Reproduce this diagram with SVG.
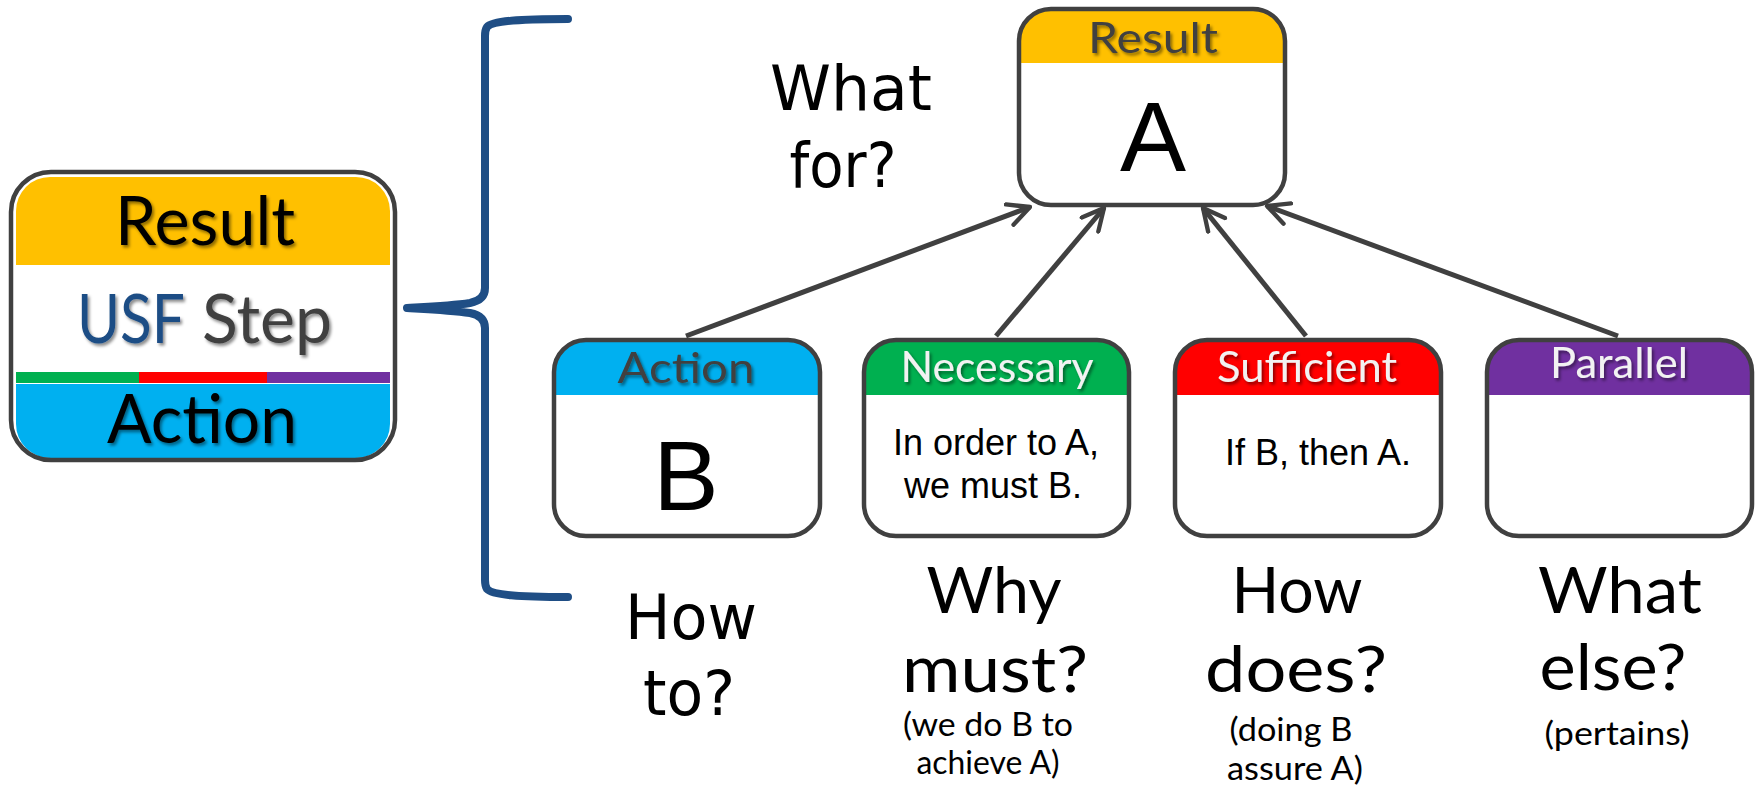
<svg xmlns="http://www.w3.org/2000/svg" width="1758" height="786" viewBox="0 0 1758 786">
<style>
.border{fill:none;stroke:#404040;stroke-width:4.5}
.cal{font-family:Lato,"Open Sans",sans-serif;text-anchor:middle}
.dv{font-family:"DejaVu Sans",sans-serif;text-anchor:middle;font-size:62px;fill:#000}
.ar{font-family:"Liberation Sans",Arial,sans-serif;text-anchor:middle;fill:#000}
.hdrd{font-size:43px;fill:#404040}
.hdrw{font-size:43px;fill:#F2F2F2}
.big{font-size:67px;fill:#000}
.lbl{font-size:64px;fill:#000}
.small{font-size:32px;fill:#000}
.conn{fill:none;stroke:#404040;stroke-width:5}
</style>
<defs>
<filter id="sh" x="-10%" y="-20%" width="130%" height="150%">
<feDropShadow dx="2" dy="2.5" stdDeviation="1.5" flood-color="#000" flood-opacity="0.45"/>
</filter>
<marker id="ah" viewBox="0 0 12 12" refX="11" refY="6" markerWidth="26" markerHeight="26" markerUnits="userSpaceOnUse" orient="auto">
<path d="M1,1 L11,6 L1,11" fill="none" stroke="#404040" stroke-width="2" stroke-linecap="round" stroke-linejoin="round"/>
</marker>
<clipPath id="cL"><rect x="16" y="177" width="374" height="281" rx="34"/></clipPath>
<clipPath id="cR"><rect x="1019" y="9" width="266" height="196" rx="32"/></clipPath>
<clipPath id="cA"><rect x="554" y="340" width="266" height="196" rx="32"/></clipPath>
<clipPath id="cN"><rect x="864" y="340" width="265" height="196" rx="32"/></clipPath>
<clipPath id="cS"><rect x="1175" y="340" width="266" height="196" rx="32"/></clipPath>
<clipPath id="cP"><rect x="1487" y="340" width="265" height="196" rx="32"/></clipPath>
</defs>
<rect width="1758" height="786" fill="#fff"/>

<g id="usf-step">
<rect x="11" y="172" width="384" height="288" rx="40" fill="#fff"/>
<g clip-path="url(#cL)">
<rect x="16" y="177" width="374" height="88" fill="#FFC000"/>
<rect x="16" y="372" width="123" height="11" fill="#00B050"/>
<rect x="139" y="372" width="128" height="11" fill="#FF0000"/>
<rect x="267" y="372" width="123" height="11" fill="#7030A0"/>
<rect x="16" y="384" width="374" height="74" fill="#00B0F0"/>
</g>
<rect x="11" y="172" width="384" height="288" rx="40" class="border"/>
<g filter="url(#sh)">
<text class="cal big" x="205" y="245" textLength="180" lengthAdjust="spacingAndGlyphs">Result</text>
<text class="cal" style="font-size:67px;text-anchor:start" x="77" y="343"><tspan fill="#1F4E85" textLength="108" lengthAdjust="spacingAndGlyphs">USF</tspan></text>
<text class="cal" style="font-size:67px;text-anchor:start" x="202" y="343"><tspan fill="#404040" textLength="130" lengthAdjust="spacingAndGlyphs">Step</tspan></text>
<text class="cal big" x="202" y="443" textLength="190" lengthAdjust="spacingAndGlyphs">Action</text>
</g>
</g>

<g id="brace">
<path d="M568,19 C520,19 492,21 487,27 Q485,30 485,36 L485,288 Q485,300 470,303 C450,306 425,307 407,308 C425,309 450,310 470,313 Q485,316 485,328 L485,580 Q485,586 487,589 C492,595 520,597 568,597" fill="none" stroke="#1F4E85" stroke-width="8" stroke-linecap="round" stroke-linejoin="round"/>
</g>

<g id="connectors">
<line class="conn" x1="686" y1="336" x2="1030" y2="207" marker-end="url(#ah)"/>
<line class="conn" x1="996" y1="336" x2="1104" y2="208" marker-end="url(#ah)"/>
<line class="conn" x1="1306" y1="336" x2="1203" y2="208" marker-end="url(#ah)"/>
<line class="conn" x1="1618" y1="336" x2="1267" y2="206" marker-end="url(#ah)"/>
</g>

<g id="result">
<rect x="1019" y="9" width="266" height="196" rx="32" fill="#fff"/>
<rect x="1019" y="9" width="266" height="54" fill="#FFC000" clip-path="url(#cR)"/>
<rect x="1019" y="9" width="266" height="196" rx="32" class="border"/>
<text class="cal hdrd" x="1153" y="53" textLength="130" lengthAdjust="spacingAndGlyphs" filter="url(#sh)">Result</text>
<text class="ar" style="font-size:99px" x="1153" y="171">A</text>
</g>

<g id="action">
<rect x="554" y="340" width="266" height="196" rx="32" fill="#fff"/>
<rect x="554" y="340" width="266" height="55" fill="#00B0F0" clip-path="url(#cA)"/>
<rect x="554" y="340" width="266" height="196" rx="32" class="border"/>
<text class="cal hdrd" x="686" y="383" textLength="137" lengthAdjust="spacingAndGlyphs" filter="url(#sh)">Action</text>
<text class="ar" style="font-size:98px" x="686" y="510">B</text>
</g>

<g id="necessary">
<rect x="864" y="340" width="265" height="196" rx="32" fill="#fff"/>
<rect x="864" y="340" width="265" height="55" fill="#00B050" clip-path="url(#cN)"/>
<rect x="864" y="340" width="265" height="196" rx="32" class="border"/>
<text class="cal hdrw" x="997" y="382" textLength="193" lengthAdjust="spacingAndGlyphs" filter="url(#sh)">Necessary</text>
<text class="ar" style="font-size:36px" x="996" y="455">In order to A,</text>
<text class="ar" style="font-size:36px" x="993" y="498">we must B.</text>
</g>

<g id="sufficient">
<rect x="1175" y="340" width="266" height="196" rx="32" fill="#fff"/>
<rect x="1175" y="340" width="266" height="55" fill="#FF0000" clip-path="url(#cS)"/>
<rect x="1175" y="340" width="266" height="196" rx="32" class="border"/>
<text class="cal hdrw" x="1307" y="382" textLength="180" lengthAdjust="spacingAndGlyphs" filter="url(#sh)">Sufficient</text>
<text class="ar" style="font-size:36px" x="1318" y="465">If B, then A.</text>
</g>

<g id="parallel">
<rect x="1487" y="340" width="265" height="196" rx="32" fill="#fff"/>
<rect x="1487" y="340" width="265" height="55" fill="#7030A0" clip-path="url(#cP)"/>
<rect x="1487" y="340" width="265" height="196" rx="32" class="border"/>
<text class="cal hdrw" x="1619" y="378" textLength="138" lengthAdjust="spacingAndGlyphs" filter="url(#sh)">Parallel</text>
</g>

<g id="labels">
<text class="dv" x="851" y="110" textLength="162" lengthAdjust="spacingAndGlyphs">What</text>
<text class="dv" x="843" y="187" textLength="107" lengthAdjust="spacingAndGlyphs">for?</text>
<text class="dv" x="691" y="639" textLength="132" lengthAdjust="spacingAndGlyphs">How</text>
<text class="dv" x="689" y="715" textLength="92" lengthAdjust="spacingAndGlyphs">to?</text>

<text class="cal lbl" x="994" y="613" textLength="135" lengthAdjust="spacingAndGlyphs">Why</text>
<text class="cal lbl" x="995" y="692" textLength="186" lengthAdjust="spacingAndGlyphs">must?</text>
<text class="cal small" x="988" y="736" textLength="170" lengthAdjust="spacingAndGlyphs">(we do B to</text>
<text class="cal small" x="988" y="774" textLength="143" lengthAdjust="spacingAndGlyphs">achieve A)</text>

<text class="cal lbl" x="1297" y="613" textLength="131" lengthAdjust="spacingAndGlyphs">How</text>
<text class="cal lbl" x="1296" y="692" textLength="182" lengthAdjust="spacingAndGlyphs">does?</text>
<text class="cal small" x="1291" y="741" textLength="123" lengthAdjust="spacingAndGlyphs">(doing B</text>
<text class="cal small" x="1295" y="780" textLength="136" lengthAdjust="spacingAndGlyphs">assure A)</text>

<text class="cal lbl" x="1620" y="613" textLength="164" lengthAdjust="spacingAndGlyphs">What</text>
<text class="cal lbl" x="1613" y="690" textLength="147" lengthAdjust="spacingAndGlyphs">else?</text>
<text class="cal small" x="1617" y="745" textLength="145" lengthAdjust="spacingAndGlyphs">(pertains)</text>
</g>
</svg>
